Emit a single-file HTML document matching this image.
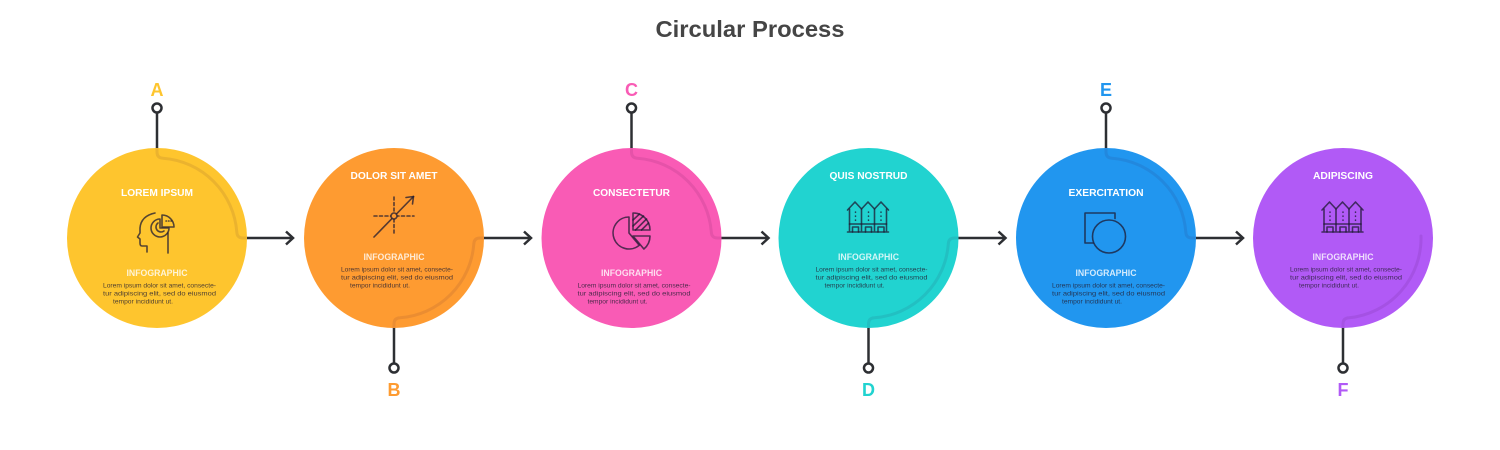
<!DOCTYPE html>
<html><head><meta charset="utf-8"><style>
html,body{margin:0;padding:0;background:#fff;}
svg{display:block;}
text{font-family:"Liberation Sans",Arial,sans-serif;}
.t{font-size:10px;font-weight:bold;fill:#fff;}
.i{font-size:9px;font-weight:bold;fill:rgba(255,255,255,0.8);}
.b{font-size:6.5px;fill:rgba(35,30,50,0.82);}
.arc{fill:none;stroke:rgba(40,0,60,0.09);stroke-width:3;stroke-linecap:round;}
.con{stroke:#2d2f33;stroke-width:2.5;fill:none;}
.mk{fill:#fff;stroke:#2d2f33;stroke-width:2.5;}
.ic{fill:none;stroke:rgba(30,25,50,0.75);stroke-width:1.6;stroke-linejoin:round;stroke-linecap:round;}
.lb{font-size:18px;font-weight:bold;}
</style></head><body>
<svg width="1500" height="450" viewBox="0 0 1500 450" xmlns="http://www.w3.org/2000/svg">
<text x="750" y="37" text-anchor="middle" font-size="23" font-weight="bold" fill="#454545" textLength="189" lengthAdjust="spacingAndGlyphs">Circular Process</text>

<!-- A -->
<g transform="translate(157,0)">
<circle cx="0" cy="238" r="90" fill="#FEC52E"/>
<path class="arc" d="M0 148 V152 Q0 158 6 158.2 A80 80 0 0 1 79.8 232 Q80 238 86 238 H90"/>
<line class="con" x1="0" y1="148" x2="0" y2="112.5"/>
<circle class="mk" cx="0" cy="108" r="4.5"/>
<text class="lb" x="0" y="96" text-anchor="middle" fill="#FEC52E">A</text>
<line class="con" x1="90" y1="238" x2="136" y2="238"/>
<polyline class="con" points="129,231.5 136,238 129,244.5"/>
<text class="t" x="0" y="196" text-anchor="middle" textLength="72" lengthAdjust="spacingAndGlyphs">LOREM IPSUM</text>
<g class="ic">
<path d="M-10 252 V246 L-15 246 Q-17 246 -17 243 L-17 239 L-19.5 237 L-17 233 L-17 228 Q-16 216 -2 213"/>
<path d="M11 233 V253"/>
<path d="M3 219 A9 9 0 1 0 12 228 L3 228 Z"/>
<path d="M5 215 A12 12 0 0 1 17 227 L5 227 Z"/>
<path d="M1 223 A5 5 0 1 0 7 231 A4 4 0 0 1 1 223"/>
<path d="M9 221 h0.5 M11.5 221 h0.5 M14 221 h0.5"/>
</g>
<text class="i" x="0" y="276" text-anchor="middle" textLength="61" lengthAdjust="spacingAndGlyphs">INFOGRAPHIC</text>
<text class="b" x="-54" y="287.5" textLength="113" lengthAdjust="spacingAndGlyphs">Lorem ipsum dolor sit amet, consecte-</text>
<text class="b" x="-54" y="295.5" textLength="113" lengthAdjust="spacingAndGlyphs">tur adipiscing elit, sed do eiusmod</text>
<text class="b" x="-44" y="303.5" textLength="60" lengthAdjust="spacingAndGlyphs">tempor incididunt ut.</text>
</g>

<!-- B -->
<g transform="translate(394,0)">
<circle cx="0" cy="238" r="90" fill="#FE9B31"/>
<path class="arc" d="M90 238 H86 Q80 238 79.8 244 A80 80 0 0 1 6 317.8 Q0 318 0 324 V328"/>
<line class="con" x1="0" y1="328" x2="0" y2="363.5"/>
<circle class="mk" cx="0" cy="368" r="4.5"/>
<text class="lb" x="0" y="396" text-anchor="middle" fill="#FE9B31">B</text>
<line class="con" x1="90" y1="238" x2="137" y2="238"/>
<polyline class="con" points="130,231.5 137,238 130,244.5"/>
<text class="t" x="0" y="179" text-anchor="middle" textLength="87" lengthAdjust="spacingAndGlyphs">DOLOR SIT AMET</text>
<g class="ic">
<path d="M-20 216 H20" stroke-dasharray="3 2.5"/>
<path d="M0 197 V235" stroke-dasharray="3 2.5"/>
<path d="M-20 237 L19.5 196.5"/>
<path d="M12 197.5 L19.5 196.5 L18.5 204"/>
<circle cx="0" cy="216" r="3" fill="#FE9B31"/>
</g>
<text class="i" x="0" y="260" text-anchor="middle" textLength="61" lengthAdjust="spacingAndGlyphs">INFOGRAPHIC</text>
<text class="b" x="-53" y="271.5" textLength="112" lengthAdjust="spacingAndGlyphs">Lorem ipsum dolor sit amet, consecte-</text>
<text class="b" x="-53" y="279.5" textLength="112" lengthAdjust="spacingAndGlyphs">tur adipiscing elit, sed do eiusmod</text>
<text class="b" x="-44" y="287.5" textLength="60" lengthAdjust="spacingAndGlyphs">tempor incididunt ut.</text>
</g>

<!-- C -->
<g transform="translate(631.5,0)">
<circle cx="0" cy="238" r="90" fill="#F95BB5"/>
<path class="arc" d="M0 148 V152 Q0 158 6 158.2 A80 80 0 0 1 79.8 232 Q80 238 86 238 H90"/>
<line class="con" x1="0" y1="148" x2="0" y2="112.5"/>
<circle class="mk" cx="0" cy="108" r="4.5"/>
<text class="lb" x="0" y="96" text-anchor="middle" fill="#F95BB5">C</text>
<line class="con" x1="90" y1="238" x2="137" y2="238"/>
<polyline class="con" points="130,231.5 137,238 130,244.5"/>
<text class="t" x="0" y="196" text-anchor="middle" textLength="77" lengthAdjust="spacingAndGlyphs">CONSECTETUR</text>
<g class="ic">
<path d="M-2.5 217 A16 16 0 1 0 7.8 245.3 L-2.5 233 Z"/>
<path d="M1.5 213 A17 17 0 0 1 18.5 230 L1.5 230 Z"/>
<path d="M18.5 236 A17 17 0 0 1 12.4 249 L1.5 236 Z"/>
<path d="M1.5 220 L8 214 M1.5 226 L12 216 M4 230 L15 219 M10 230 L17 223"/>
</g>
<text class="i" x="0" y="276" text-anchor="middle" textLength="61" lengthAdjust="spacingAndGlyphs">INFOGRAPHIC</text>
<text class="b" x="-54" y="287.5" textLength="113" lengthAdjust="spacingAndGlyphs">Lorem ipsum dolor sit amet, consecte-</text>
<text class="b" x="-54" y="295.5" textLength="113" lengthAdjust="spacingAndGlyphs">tur adipiscing elit, sed do eiusmod</text>
<text class="b" x="-44" y="303.5" textLength="60" lengthAdjust="spacingAndGlyphs">tempor incididunt ut.</text>
</g>

<!-- D -->
<g transform="translate(868.5,0)">
<circle cx="0" cy="238" r="90" fill="#21D3D0"/>
<path class="arc" d="M90 238 H86 Q80 238 79.8 244 A80 80 0 0 1 6 317.8 Q0 318 0 324 V328"/>
<line class="con" x1="0" y1="328" x2="0" y2="363.5"/>
<circle class="mk" cx="0" cy="368" r="4.5"/>
<text class="lb" x="0" y="396" text-anchor="middle" fill="#21D3D0">D</text>
<line class="con" x1="90" y1="238" x2="137" y2="238"/>
<polyline class="con" points="130,231.5 137,238 130,244.5"/>
<text class="t" x="0" y="179" text-anchor="middle" textLength="78" lengthAdjust="spacingAndGlyphs">QUIS NOSTRUD</text>
<g class="ic">
<path d="M-21 210 L-13.5 202 L-7 209 L-0.5 202 L6 209 L12.5 202 L20 210"/>
<path d="M-19 209 V232 M-7 209 V232 M6 209 V232 M18 209 V232 M-21 232 H20"/>
<path d="M-19 224 H18"/>
<path d="M-16 232 V227 H-10 V232 M-3 232 V227 H3 V232 M9.5 232 V227 H15.5 V232"/>
<path d="M-13 212 v0.3 M-13 216 v0.3 M-13 220 v0.3 M0 212 v0.3 M0 216 v0.3 M0 220 v0.3 M12.5 212 v0.3 M12.5 216 v0.3 M12.5 220 v0.3"/>
</g>
<text class="i" x="0" y="260" text-anchor="middle" textLength="61" lengthAdjust="spacingAndGlyphs">INFOGRAPHIC</text>
<text class="b" x="-53" y="271.5" textLength="112" lengthAdjust="spacingAndGlyphs">Lorem ipsum dolor sit amet, consecte-</text>
<text class="b" x="-53" y="279.5" textLength="112" lengthAdjust="spacingAndGlyphs">tur adipiscing elit, sed do eiusmod</text>
<text class="b" x="-44" y="287.5" textLength="60" lengthAdjust="spacingAndGlyphs">tempor incididunt ut.</text>
</g>

<!-- E -->
<g transform="translate(1106,0)">
<circle cx="0" cy="238" r="90" fill="#2196EF"/>
<path class="arc" d="M0 148 V152 Q0 158 6 158.2 A80 80 0 0 1 79.8 232 Q80 238 86 238 H90"/>
<line class="con" x1="0" y1="148" x2="0" y2="112.5"/>
<circle class="mk" cx="0" cy="108" r="4.5"/>
<text class="lb" x="0" y="96" text-anchor="middle" fill="#2196EF">E</text>
<line class="con" x1="90" y1="238" x2="137" y2="238"/>
<polyline class="con" points="130,231.5 137,238 130,244.5"/>
<text class="t" x="0" y="196" text-anchor="middle" textLength="75" lengthAdjust="spacingAndGlyphs">EXERCITATION</text>
<g class="ic">
<path d="M-13 243 H-21 V213 H9 V218.5"/>
<circle cx="3" cy="236.5" r="16.5"/>
</g>
<text class="i" x="0" y="276" text-anchor="middle" textLength="61" lengthAdjust="spacingAndGlyphs">INFOGRAPHIC</text>
<text class="b" x="-54" y="287.5" textLength="113" lengthAdjust="spacingAndGlyphs">Lorem ipsum dolor sit amet, consecte-</text>
<text class="b" x="-54" y="295.5" textLength="113" lengthAdjust="spacingAndGlyphs">tur adipiscing elit, sed do eiusmod</text>
<text class="b" x="-44" y="303.5" textLength="60" lengthAdjust="spacingAndGlyphs">tempor incididunt ut.</text>
</g>

<!-- F -->
<g transform="translate(1343,0)">
<circle cx="0" cy="238" r="90" fill="#B15AF6"/>
<path class="arc" d="M78 236 A80 80 0 0 1 6 317.8 Q0 318 0 324 V328"/>
<line class="con" x1="0" y1="328" x2="0" y2="363.5"/>
<circle class="mk" cx="0" cy="368" r="4.5"/>
<text class="lb" x="0" y="396" text-anchor="middle" fill="#B15AF6">F</text>
<text class="t" x="0" y="179" text-anchor="middle" textLength="60" lengthAdjust="spacingAndGlyphs">ADIPISCING</text>
<g class="ic">
<path d="M-21 210 L-13.5 202 L-7 209 L-0.5 202 L6 209 L12.5 202 L20 210"/>
<path d="M-19 209 V232 M-7 209 V232 M6 209 V232 M18 209 V232 M-21 232 H20"/>
<path d="M-19 224 H18"/>
<path d="M-16 232 V227 H-10 V232 M-3 232 V227 H3 V232 M9.5 232 V227 H15.5 V232"/>
<path d="M-13 212 v0.3 M-13 216 v0.3 M-13 220 v0.3 M0 212 v0.3 M0 216 v0.3 M0 220 v0.3 M12.5 212 v0.3 M12.5 216 v0.3 M12.5 220 v0.3"/>
</g>
<text class="i" x="0" y="260" text-anchor="middle" textLength="61" lengthAdjust="spacingAndGlyphs">INFOGRAPHIC</text>
<text class="b" x="-53" y="271.5" textLength="112" lengthAdjust="spacingAndGlyphs">Lorem ipsum dolor sit amet, consecte-</text>
<text class="b" x="-53" y="279.5" textLength="112" lengthAdjust="spacingAndGlyphs">tur adipiscing elit, sed do eiusmod</text>
<text class="b" x="-44" y="287.5" textLength="60" lengthAdjust="spacingAndGlyphs">tempor incididunt ut.</text>
</g>
</svg>
</body></html>
